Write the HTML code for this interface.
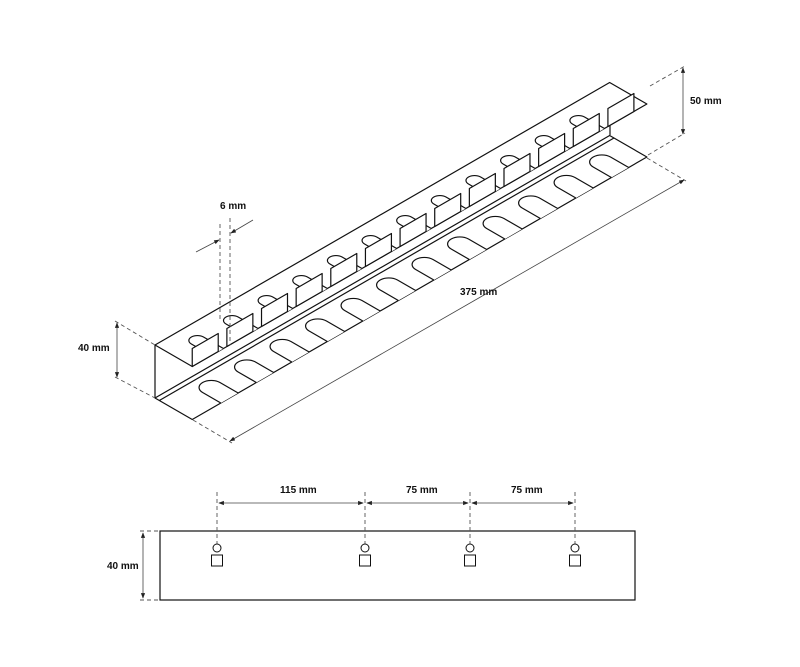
<!DOCTYPE html>
<html><head><meta charset="utf-8"><style>
html,body{margin:0;padding:0;background:#fff;}
svg{display:block;}
text{font-family:"Liberation Sans",Arial,sans-serif;font-weight:bold;font-size:10px;fill:#111;}
.l{stroke:#111;stroke-width:1.2;fill:none;vector-effect:non-scaling-stroke;stroke-linejoin:round;}
.w{fill:#fff;}
.d{stroke:#555;stroke-width:0.9;fill:none;stroke-dasharray:4 3;}
.a{stroke:#444;stroke-width:0.8;fill:none;}
</style></head><body>
<svg width="800" height="667" viewBox="0 0 800 667">
<defs>
<marker id="ar" viewBox="0 0 8 8" refX="7" refY="4" markerWidth="7" markerHeight="7" orient="auto-start-reverse"><path d="M0,1 L8,4 L0,7z" fill="#222"/></marker>
</defs>

<!-- bottom flange -->
<g transform="matrix(0.866,-0.5,0.866,0.5,155,398)">
  <path class="l w" d="M0,0 L525,0 L525,43 L0,43 Z"/>
  <line class="l" x1="0" y1="5" x2="525" y2="5"/>
  <path class="l w" d="M33,43 L33,22 A10,10 0 0 1 53,22 L53,43"/>
  <path class="l w" d="M74,43 L74,22 A10,10 0 0 1 94,22 L94,43"/>
  <path class="l w" d="M115,43 L115,22 A10,10 0 0 1 135,22 L135,43"/>
  <path class="l w" d="M156,43 L156,22 A10,10 0 0 1 176,22 L176,43"/>
  <path class="l w" d="M197,43 L197,22 A10,10 0 0 1 217,22 L217,43"/>
  <path class="l w" d="M238,43 L238,22 A10,10 0 0 1 258,22 L258,43"/>
  <path class="l w" d="M279,43 L279,22 A10,10 0 0 1 299,22 L299,43"/>
  <path class="l w" d="M320,43 L320,22 A10,10 0 0 1 340,22 L340,43"/>
  <path class="l w" d="M361,43 L361,22 A10,10 0 0 1 381,22 L381,43"/>
  <path class="l w" d="M402,43 L402,22 A10,10 0 0 1 422,22 L422,43"/>
  <path class="l w" d="M443,43 L443,22 A10,10 0 0 1 463,22 L463,43"/>
  <path class="l w" d="M484,43 L484,22 A10,10 0 0 1 504,22 L504,43"/>
</g>

<!-- wall end lines -->
<line class="l" x1="155" y1="345" x2="155" y2="398"/>
<line class="l" x1="610" y1="100" x2="610" y2="135"/>

<!-- top flange -->
<g transform="matrix(0.866,-0.5,0.866,0.5,155,345)">
  <path class="l w" d="M0,0 L525,0 L525,43 L0,43 Z"/>
  <path class="l w" d="M22,43 L22,20 A7,7 0 0 1 36,20 L36,43"/><path class="l w" d="M0,43 L30,43 L48,25 L18,25 Z"/>
  <path class="l w" d="M62,43 L62,20 A7,7 0 0 1 76,20 L76,43"/><path class="l w" d="M40,43 L70,43 L88,25 L58,25 Z"/>
  <path class="l w" d="M102,43 L102,20 A7,7 0 0 1 116,20 L116,43"/><path class="l w" d="M80,43 L110,43 L128,25 L98,25 Z"/>
  <path class="l w" d="M142,43 L142,20 A7,7 0 0 1 156,20 L156,43"/><path class="l w" d="M120,43 L150,43 L168,25 L138,25 Z"/>
  <path class="l w" d="M182,43 L182,20 A7,7 0 0 1 196,20 L196,43"/><path class="l w" d="M160,43 L190,43 L208,25 L178,25 Z"/>
  <path class="l w" d="M222,43 L222,20 A7,7 0 0 1 236,20 L236,43"/><path class="l w" d="M200,43 L230,43 L248,25 L218,25 Z"/>
  <path class="l w" d="M262,43 L262,20 A7,7 0 0 1 276,20 L276,43"/><path class="l w" d="M240,43 L270,43 L288,25 L258,25 Z"/>
  <path class="l w" d="M302,43 L302,20 A7,7 0 0 1 316,20 L316,43"/><path class="l w" d="M280,43 L310,43 L328,25 L298,25 Z"/>
  <path class="l w" d="M342,43 L342,20 A7,7 0 0 1 356,20 L356,43"/><path class="l w" d="M320,43 L350,43 L368,25 L338,25 Z"/>
  <path class="l w" d="M382,43 L382,20 A7,7 0 0 1 396,20 L396,43"/><path class="l w" d="M360,43 L390,43 L408,25 L378,25 Z"/>
  <path class="l w" d="M422,43 L422,20 A7,7 0 0 1 436,20 L436,43"/><path class="l w" d="M400,43 L430,43 L448,25 L418,25 Z"/>
  <path class="l w" d="M462,43 L462,20 A7,7 0 0 1 476,20 L476,43"/><path class="l w" d="M440,43 L470,43 L488,25 L458,25 Z"/>
  <path class="l w" d="M480,43 L510,43 L528,25 L498,25 Z"/>
</g>

<!-- 40 mm iso -->
<line class="d" x1="115" y1="321" x2="155" y2="345"/>
<line class="d" x1="115" y1="377" x2="155" y2="398"/>
<line class="a" x1="117" y1="323" x2="117" y2="377" marker-start="url(#ar)" marker-end="url(#ar)"/>
<text x="78" y="351">40 mm</text>

<!-- 50 mm -->
<line class="d" x1="650" y1="86" x2="685" y2="66"/>
<line class="d" x1="648" y1="155" x2="685" y2="133"/>
<line class="a" x1="683" y1="68" x2="683" y2="134" marker-start="url(#ar)" marker-end="url(#ar)"/>
<text x="690" y="104">50 mm</text>

<!-- 375 mm -->
<line class="d" x1="193" y1="420" x2="232" y2="443"/>
<line class="d" x1="647" y1="158" x2="686" y2="181"/>
<line class="a" x1="230" y1="441" x2="684" y2="180" marker-start="url(#ar)" marker-end="url(#ar)"/>
<text x="460" y="295">375 mm</text>

<!-- 6 mm -->
<line class="d" x1="220" y1="224" x2="220" y2="320"/>
<line class="d" x1="230" y1="218" x2="230" y2="345"/>
<line class="a" x1="196" y1="252" x2="219" y2="240" marker-end="url(#ar)"/>
<line class="a" x1="253" y1="220" x2="231" y2="233" marker-end="url(#ar)"/>
<text x="220" y="209">6 mm</text>

<!-- bottom view -->
<rect x="160" y="531" width="475" height="69" fill="none" stroke="#111" stroke-width="1.2"/>
<line class="d" x1="140" y1="531" x2="158" y2="531"/>
<line class="d" x1="140" y1="600" x2="158" y2="600"/>
<line class="a" x1="143" y1="533" x2="143" y2="598" marker-start="url(#ar)" marker-end="url(#ar)"/>
<text x="107" y="569">40 mm</text>

<line class="d" x1="217" y1="492" x2="217" y2="544"/>
<line class="d" x1="365" y1="492" x2="365" y2="544"/>
<line class="d" x1="470" y1="492" x2="470" y2="544"/>
<line class="d" x1="575" y1="492" x2="575" y2="544"/>
<line class="a" x1="219" y1="503" x2="363" y2="503" marker-start="url(#ar)" marker-end="url(#ar)"/>
<line class="a" x1="367" y1="503" x2="468" y2="503" marker-start="url(#ar)" marker-end="url(#ar)"/>
<line class="a" x1="472" y1="503" x2="573" y2="503" marker-start="url(#ar)" marker-end="url(#ar)"/>
<text x="280" y="493">115 mm</text>
<text x="406" y="493">75 mm</text>
<text x="511" y="493">75 mm</text>
<g fill="#fff" stroke="#111" stroke-width="1">
<circle cx="217" cy="548" r="4"/><rect x="211.5" y="555" width="11" height="11"/>
<circle cx="365" cy="548" r="4"/><rect x="359.5" y="555" width="11" height="11"/>
<circle cx="470" cy="548" r="4"/><rect x="464.5" y="555" width="11" height="11"/>
<circle cx="575" cy="548" r="4"/><rect x="569.5" y="555" width="11" height="11"/>
</g>
</svg>
</body></html>
